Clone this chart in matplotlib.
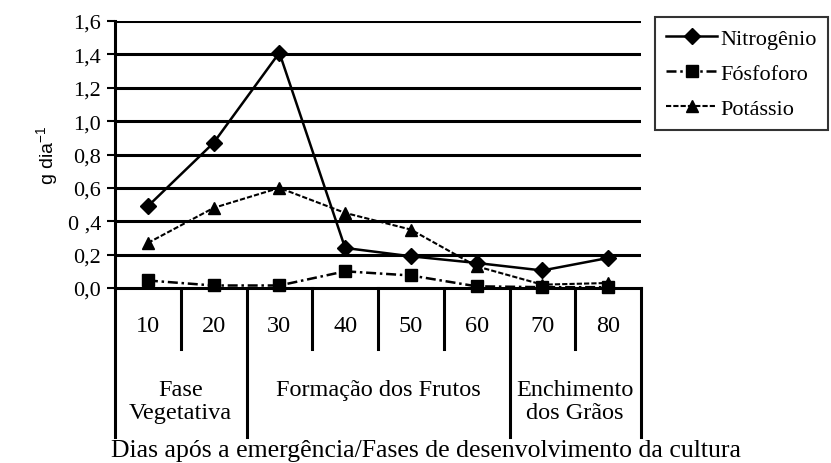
import matplotlib.pyplot as plt
from matplotlib.lines import Line2D

days = ["10", "20", "30", "40", "50", "60", "70", "80"]
nitrogenio = [0.49, 0.87, 1.41, 0.24, 0.19, 0.15, 0.105, 0.18]
fosforo = [0.045, 0.015, 0.015, 0.10, 0.075, 0.01, 0.005, 0.005]
potassio = [0.27, 0.48, 0.60, 0.45, 0.35, 0.13, 0.02, 0.03]
yticks = [0.0, 0.2, 0.4, 0.6, 0.8, 1.0, 1.2, 1.4, 1.6]
ytick_labels = ["0,0", "0,2", "0 ,4", "0,6", "0,8", "1,0", "1,2", "1,4", "1,6"]
phases = [("Fase\nVegetativa", 0, 2), ("Formação dos Frutos", 2, 6),
          ("Enchimento\ndos Grãos", 6, 8)]

plt.rcParams["font.family"] = ["Liberation Serif", "DejaVu Serif"]

N_STYLE = dict(color="black", lw=1.8, ls="-", marker="D", ms=8)
P_STYLE = dict(color="black", lw=1.8, ls=(0, (4, 1.5, 1, 1.5)), marker="s", ms=9)
K_STYLE = dict(color="black", lw=1.5, ls=(0, (2.5, 1)), marker="^", ms=9)

fig = plt.figure(figsize=(8.31, 4.64), dpi=100)
ax = fig.add_axes([115 / 831, 1 - 289 / 464, 526 / 831, 267 / 464])

x = list(range(len(days)))
ax.plot(x, nitrogenio, label="Nitrogênio", clip_on=False, zorder=5, **N_STYLE)
ax.plot(x, fosforo, label="Fósfoforo", clip_on=False, zorder=5, **P_STYLE)
ax.plot(x, potassio, label="Potássio", clip_on=False, zorder=5, **K_STYLE)

ax.set_xlim(-0.5, 7.5)
ax.set_ylim(0, 1.6)
ax.set_yticks(yticks)
ax.set_yticklabels(ytick_labels, fontsize=16)
ax.set_xticks([])
for y in yticks[1:]:
    ax.axhline(y, color="black", lw=2.2, zorder=1)
for s in ["top", "right"]:
    ax.spines[s].set_visible(False)
ax.spines["left"].set_linewidth(2.2)
ax.spines["bottom"].set_linewidth(2.2)
ax.tick_params(axis="y", direction="out", length=6, width=1.5, pad=4)
ax.set_ylabel("g dia$^{\\mathregular{-1}}$", fontsize=14, family="Liberation Sans",
              labelpad=5)

# table below the axis
tr = ax.get_xaxis_transform()
long_edges = [-0.5] + [p[2] - 0.5 for p in phases]
for i in range(len(days) + 1):
    xe = i - 0.5
    bottom = -0.558 if xe in long_edges else -0.228
    ax.plot([xe, xe], [0, bottom], color="black", lw=2.2, transform=tr,
            clip_on=False)
for i, d in enumerate(days):
    ax.text(i, -0.142, d, transform=tr, ha="center", va="center", fontsize=17.5)
for label, a, b in phases:
    ax.text((a + b - 1) / 2, -0.342, label, transform=tr, ha="center",
            va="top", fontsize=17.5, linespacing=1.08)
fig.text(426 / 831, 1 - 451 / 464,
         "Dias após a emergência/Fases de desenvolvimento da cultura",
         ha="center", va="center", fontsize=18.5)

handles = [Line2D([], [], **N_STYLE), Line2D([], [], **P_STYLE),
           Line2D([], [], **K_STYLE)]
leg = fig.legend(handles, ["Nitrogênio", "Fósfoforo", "Potássio"],
                 loc="upper left", bbox_to_anchor=(655 / 831, 1 - 18 / 464),
                 fontsize=16, frameon=True, fancybox=False, edgecolor="black",
                 handlelength=2.3, handletextpad=0.15, borderpad=0.5,
                 labelspacing=0.65, borderaxespad=0)
leg.get_frame().set_linewidth(1.5)

fig.savefig("out.png", dpi=100)
